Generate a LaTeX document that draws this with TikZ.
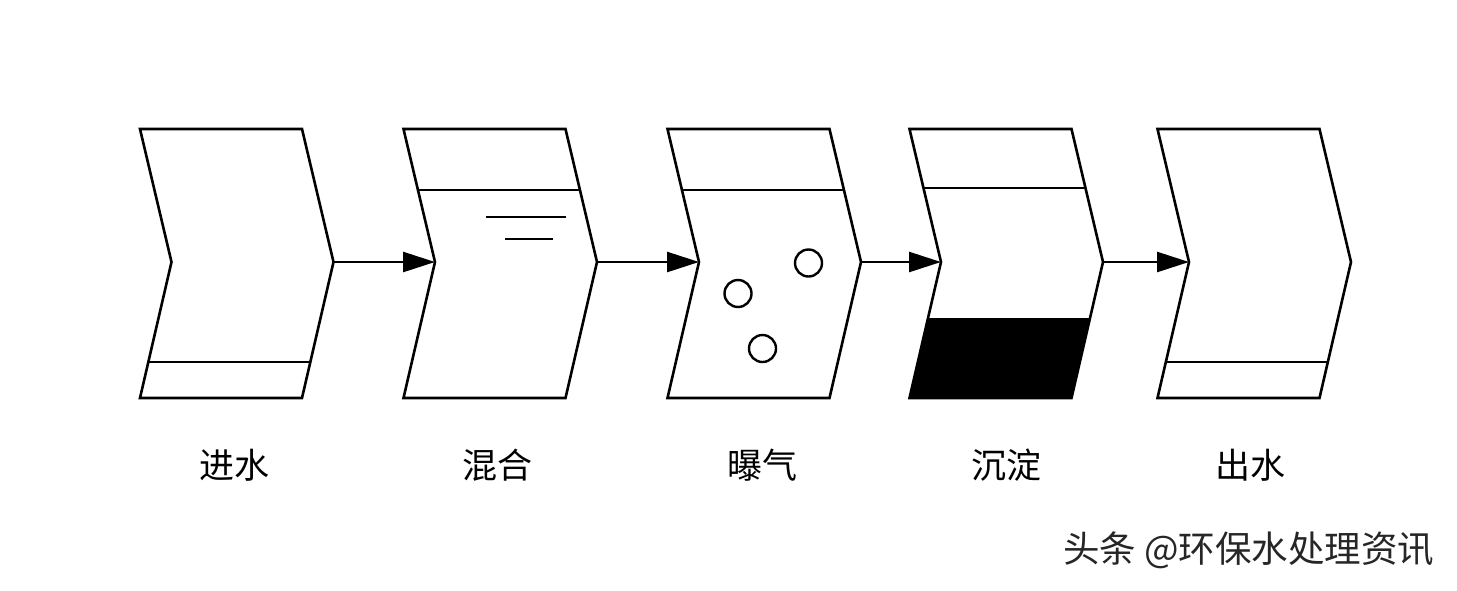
\documentclass[tikz,border=0pt]{standalone}
\usepackage{fontspec}
\newfontfamily\cjk{Noto Sans CJK SC}
\usetikzlibrary{arrows.meta}
\newcommand\chevshape[1]{(#1,129) -- ++(162,0) -- ++(31.5,133) -- ++(-31.5,136) -- ++(-162,0) -- ++(31.5,-136) -- cycle}
\tikzset{
  outline/.style={draw=black, line width=2.6pt, line join=miter},
  inner/.style={draw=black, line width=2.6pt},
  flowarrow/.style={draw=black, line width=2.6pt, -{Triangle[length=32pt,width=20pt]}},
  bubble/.style={draw=black, line width=2.4pt},
  lab/.style={font=\cjk\fontsize{35}{40}\selectfont, text=black, inner sep=0pt},
  wmtext/.style={font=\cjk\fontsize{36.5}{40}\selectfont, text=black!85, inner sep=0pt, anchor=west}
}
\begin{document}
\begin{tikzpicture}[x=1pt,y=-1pt]
\useasboundingbox (0,0) rectangle (1457,590);
\fill[white] (0,0) rectangle (1457,590);

% shape 1: inflow
\begin{scope}\clip \chevshape{140}; \draw[inner] (120,362) -- (360,362); \end{scope}
\draw[outline] \chevshape{140};
\coordinate (t1) at (333.5,262);

% shape 2: mixing
\begin{scope}\clip \chevshape{403.5}; \draw[inner] (390,190) -- (620,190); \end{scope}
\draw[outline] \chevshape{403.5};
\draw[inner] (486,217) -- (566,217);
\draw[inner] (505,239) -- (553,239);
\coordinate (n2) at (435,262);
\coordinate (t2) at (597,262);

% shape 3: aeration
\begin{scope}\clip \chevshape{667.5}; \draw[inner] (650,190) -- (880,190); \end{scope}
\draw[outline] \chevshape{667.5};
\draw[bubble] (808.5,263) circle (13.5);
\draw[bubble] (738,293.5) circle (13.5);
\draw[bubble] (762.5,348.5) circle (13.5);
\coordinate (n3) at (699,262);
\coordinate (t3) at (861,262);

% shape 4: settling
\begin{scope}\clip \chevshape{909.5};
  \draw[inner] (890,188) -- (1120,188);
  \fill[black] (890,318) rectangle (1120,400);
\end{scope}
\draw[outline] \chevshape{909.5};
\coordinate (n4) at (941,262);
\coordinate (t4) at (1103,262);

% shape 5: outflow
\begin{scope}\clip \chevshape{1157.5}; \draw[inner] (1140,362) -- (1370,362); \end{scope}
\draw[outline] \chevshape{1157.5};
\coordinate (n5) at (1189,262);

% connectors
\draw[flowarrow] (t1) -- (n2);
\draw[flowarrow] (t2) -- (n3);
\draw[flowarrow] (t3) -- (n4);
\draw[flowarrow] (t4) -- (n5);

% labels
\node[lab] (l1) at (234.5,465) {进水};
\node[lab] (l2) at (497,465) {混合};
\node[lab] (l3) at (762,465) {曝气};
\node[lab] (l4) at (1006,465) {沉淀};
\node[lab] (l5) at (1250,465) {出水};

\node[wmtext] (wm) at (1063,550) {头条 @环保水处理资讯};
\end{tikzpicture}
\end{document}
